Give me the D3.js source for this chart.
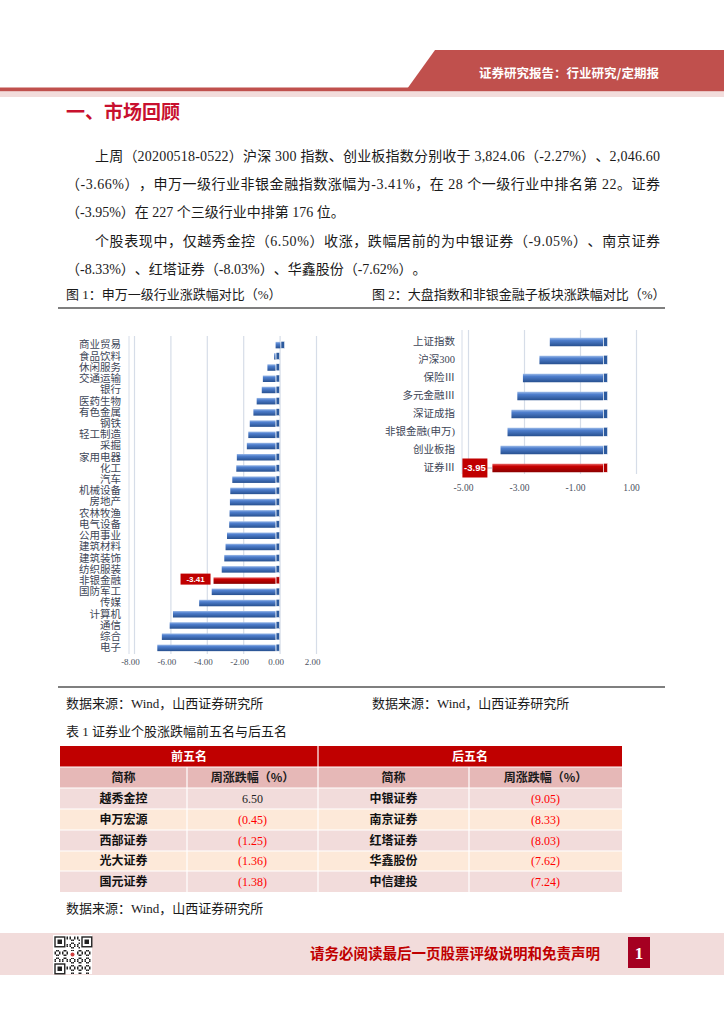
<!DOCTYPE html>
<html>
<head>
<meta charset="utf-8">
<script src="https://cdn.jsdelivr.net/npm/d3@7"></script>
<style>
  body { margin: 0; background: #fff; }
  svg { display: block; }
  svg text { text-spacing-trim: space-all; }
</style>
</head>
<body>
<svg id="page" width="724" height="1024"></svg>
<script>
// chart 1: SW level-1 industries, weekly change (%)
const industries = ["商业贸易", "食品饮料", "休闲服务", "交通运输", "银行", "医药生物", "有色金属",
  "钢铁", "轻工制造", "采掘", "家用电器", "化工", "汽车", "机械设备", "房地产", "农林牧渔",
  "电气设备", "公用事业", "建筑材料", "建筑装饰", "纺织服装", "非银金融", "国防军工", "传媒",
  "计算机", "通信", "综合", "电子"];
const industryChg = [0.27, -0.08, -0.45, -0.70, -0.76, -1.04, -1.22, -1.42, -1.50, -1.58, -2.13,
  -2.16, -2.38, -2.49, -2.51, -2.53, -2.55, -2.67, -2.75, -2.82, -2.96, -3.41, -3.51, -4.20,
  -5.64, -5.82, -6.25, -6.50];
const leftTicks = [-8, -6, -4, -2, 0, 2];

// chart 2: indices and non-bank sub sectors (%)
const indexNames = ["上证指数", "沪深300", "保险Ⅲ", "多元金融Ⅲ", "深证成指", "非银金融(申万)", "创业板指", "证券Ⅲ"];
const indexChg = [-1.90, -2.27, -2.86, -3.06, -3.27, -3.41, -3.66, -3.95];
const rightTicks = [-5, -3, -1, 1];

// table 1
const topNames = ["越秀金控", "申万宏源", "西部证券", "光大证券", "国元证券"];
const topChg = [6.50, -0.45, -1.25, -1.36, -1.38];
const bottomNames = ["中银证券", "南京证券", "红塔证券", "华鑫股份", "中信建投"];
const bottomChg = [-9.05, -8.33, -8.03, -7.62, -7.24];

const bodyLines = [
  "上周（20200518-0522）沪深 300 指数、创业板指数分别收于 3,824.06（-2.27%）、2,046.60",
  "（-3.66%），申万一级行业非银金融指数涨幅为-3.41%，在 28 个一级行业中排名第 22。证券",
  "（-3.95%）在 227 个三级行业中排第 176 位。",
  "个股表现中，仅越秀金控（6.50%）收涨，跌幅居前的为中银证券（-9.05%）、南京证券",
  "（-8.33%）、红塔证券（-8.03%）、华鑫股份（-7.62%）。"
];

const serif = "'Liberation Serif','Noto Sans CJK SC',serif";
const sans = "'Noto Sans CJK SC','Liberation Sans',sans-serif";
const fmt2 = v => v.toFixed(2);

const svg = d3.select("#page");
const defs = svg.append("defs");

function grad(id, stops) {
  const g = defs.append("linearGradient").attr("id", id)
    .attr("x1", 0).attr("y1", 0).attr("x2", 0).attr("y2", 1);
  stops.forEach(s => g.append("stop").attr("offset", s[0]).attr("stop-color", s[1]));
}
grad("blueBar", [[0, "#9dbbe8"], [0.3, "#4f7fce"], [1, "#27508f"]]);
grad("redBar", [[0, "#e86a6a"], [0.3, "#c80000"], [1, "#8a0000"]]);

// ---------- header ----------
svg.append("polygon")
  .attr("points", "435,50 724,50 724,89 407,89")
  .attr("fill", "#c0504d");
svg.append("rect").attr("x", 0).attr("y", 87.5).attr("width", 724).attr("height", 4).attr("fill", "#c0504d");
svg.append("rect").attr("x", 0).attr("y", 91.5).attr("width", 724).attr("height", 5.5).attr("fill", "#f2dcdb");
svg.append("text")
  .attr("x", 569).attr("y", 78)
  .attr("text-anchor", "middle")
  .attr("font-family", sans).attr("font-weight", "bold").attr("font-size", 12.5)
  .attr("fill", "#fff")
  .text("证券研究报告：行业研究/定期报");

svg.append("text")
  .attr("x", 66).attr("y", 119)
  .attr("font-family", sans).attr("font-weight", "bold").attr("font-size", 19)
  .attr("fill", "#c8102e")
  .text("一、市场回顾");

// ---------- body text ----------
const lineX = [95, 66, 66, 95, 66];
const lineY = [161, 189, 217, 246, 274];
const justify = [true, true, false, true, false];
bodyLines.forEach((t, i) => {
  const el = svg.append("text")
    .attr("x", lineX[i]).attr("y", lineY[i])
    .attr("font-family", serif).attr("font-size", 14)
    .attr("fill", "#1a1a1a")
    .text(t);
  if (justify[i]) el.attr("textLength", 660 - lineX[i]).attr("lengthAdjust", "spacing");
});

// captions and rules
function label(x, y, t, size, opts = {}) {
  return svg.append("text").attr("x", x).attr("y", y)
    .attr("font-family", opts.family || serif).attr("font-size", size)
    .attr("font-weight", opts.weight || "normal")
    .attr("fill", opts.fill || "#1a1a1a")
    .attr("text-anchor", opts.anchor || "start")
    .text(t);
}
label(66, 299, "图 1：申万一级行业涨跌幅对比（%）", 13);
label(372, 299, "图 2：大盘指数和非银金融子板块涨跌幅对比（%）", 13);
svg.append("line").attr("x1", 58).attr("x2", 665).attr("y1", 308).attr("y2", 308)
  .attr("stroke", "#555").attr("stroke-width", 1.3);
svg.append("line").attr("x1", 58).attr("x2", 665).attr("y1", 687).attr("y2", 687)
  .attr("stroke", "#555").attr("stroke-width", 1.3);
label(66, 708, "数据来源：Wind，山西证券研究所", 13);
label(372, 708, "数据来源：Wind，山西证券研究所", 13);
label(66, 736, "表 1 证券业个股涨跌幅前五名与后五名", 13);
label(66, 913, "数据来源：Wind，山西证券研究所", 13);

// ---------- bar chart helper ----------
function barChart(cfg) {
  const g = svg.append("g");
  const x = cfg.x, y = cfg.y, x0 = x(0);
  // grid lines, offset to the right for the 3D depth
  g.append("line")
    .attr("x1", x(cfg.ticks[0]) - 1).attr("x2", x(cfg.ticks[0]) - 1)
    .attr("y1", cfg.gridTop).attr("y2", cfg.gridBottom)
    .attr("stroke", "#d5dce8").attr("stroke-width", 1);
  g.append("g")
    .attr("transform", "translate(" + cfg.depth + "," + cfg.gridBottom + ")")
    .call(d3.axisBottom(x).tickValues(cfg.ticks).tickSize(cfg.gridBottom - cfg.gridTop).tickFormat(""))
    .call(s => s.select(".domain").remove())
    .call(s => s.selectAll(".tick line")
      .attr("transform", "translate(0," + (cfg.gridTop - cfg.gridBottom) + ")")
      .attr("stroke", "#d6dde8").attr("stroke-width", 1.2));
  // tick labels
  g.append("g")
    .attr("transform", "translate(0," + cfg.tickY + ")")
    .call(d3.axisBottom(x).tickValues(cfg.ticks).tickSize(0).tickPadding(0).tickFormat(fmt2))
    .call(s => s.select(".domain").remove())
    .call(s => s.selectAll("text")
      .attr("font-family", serif).attr("font-size", cfg.tickSize).attr("fill", "#4a5160"));
  // category labels
  g.append("g")
    .attr("transform", "translate(" + cfg.labelX + ",0)")
    .call(d3.axisLeft(y).tickSize(0).tickPadding(0))
    .call(s => s.select(".domain").remove())
    .call(s => s.selectAll("text")
      .attr("font-family", serif).attr("font-size", cfg.labelSize).attr("fill", "#3d4657"));
  const bh = cfg.barH;
  const data = cfg.names.map((n, i) => ({ name: n, v: cfg.vals[i] }));
  const rows = g.selectAll(".bar").data(data).join("g").attr("class", "bar");
  rows.append("rect")
    .attr("x", d => Math.min(x(d.v), x0))
    .attr("y", d => y(d.name) + (y.bandwidth() - bh) / 2)
    .attr("width", d => Math.abs(x(d.v) - x0))
    .attr("height", bh)
    .attr("fill", d => d.name === cfg.highlight ? "url(#redBar)" : "url(#blueBar)");
  // end face at the right end
  rows.append("rect")
    .attr("x", d => Math.max(x(d.v), x0) + 0.5)
    .attr("y", d => y(d.name) + (y.bandwidth() - bh) / 2 - 0.5)
    .attr("width", cfg.cap)
    .attr("height", bh + 0.5)
    .attr("fill", d => d.name === cfg.highlight ? "#b00000" : "#2c5a9e")
    .attr("stroke", "#fff").attr("stroke-width", 0.5);
  // data label
  const hv = cfg.vals[cfg.names.indexOf(cfg.highlight)];
  const cy = y(cfg.highlight) + y.bandwidth() / 2;
  const bx = x(hv) - cfg.lblGap - cfg.lblW;
  if (cfg.leader) {
    g.append("line").attr("x1", bx + cfg.lblW).attr("x2", x(hv)).attr("y1", cy).attr("y2", cy)
      .attr("stroke", "#9aa5b5").attr("stroke-width", 0.8);
  }
  g.append("rect").attr("x", bx).attr("y", cy - cfg.lblH / 2 + cfg.lblDy)
    .attr("width", cfg.lblW).attr("height", cfg.lblH).attr("fill", "#c00000");
  g.append("text").attr("x", bx + cfg.lblW / 2).attr("y", cy + cfg.lblDy)
    .attr("dy", "0.35em").attr("text-anchor", "middle")
    .attr("font-family", "'Liberation Sans',sans-serif").attr("font-weight", "bold")
    .attr("font-size", cfg.lblSize).attr("fill", "#fff")
    .text(fmt2(hv));
}

// chart 1
barChart({
  names: industries, vals: industryChg, highlight: "非银金融",
  x: d3.scaleLinear().domain([-8, 2]).range([130, 312]),
  y: d3.scaleBand().domain(industries).range([339.5, 653.5]),
  ticks: leftTicks, depth: 4, gridTop: 336, gridBottom: 654, tickY: 659, tickSize: 9,
  labelX: 121, labelSize: 10.5, barH: 6.5, cap: 3.5,
  lblW: 30, lblH: 11, lblGap: 3, lblDy: -1.5, lblSize: 8, leader: false
});

// chart 2
barChart({
  names: indexNames, vals: indexChg, highlight: "证券Ⅲ",
  x: d3.scaleLinear().domain([-5, 1]).range([463, 631]),
  y: d3.scaleBand().domain(indexNames).range([333, 477]),
  ticks: rightTicks, depth: 5, gridTop: 330, gridBottom: 474, tickY: 484, tickSize: 9.5,
  labelX: 455, labelSize: 10.5, barH: 8.5, cap: 4,
  lblW: 25, lblH: 19, lblGap: 5, lblDy: 0, lblSize: 9.5, leader: true
});

// ---------- table ----------
const colX = [60, 187, 318, 469, 622];
const rowY = [746, 767, 788, 809, 830, 851, 871, 892];
const rowFill = ["#f2dcdb", "#fde9d9", "#f2dcdb", "#fde9d9", "#f2dcdb"];
const tg = svg.append("g");
tg.append("rect").attr("x", colX[0]).attr("y", rowY[0]).attr("width", colX[2] - colX[0])
  .attr("height", rowY[1] - rowY[0]).attr("fill", "#c00000");
tg.append("rect").attr("x", colX[2]).attr("y", rowY[0]).attr("width", colX[4] - colX[2])
  .attr("height", rowY[1] - rowY[0]).attr("fill", "#c00000");
for (let c = 0; c < 4; c++) {
  tg.append("rect").attr("x", colX[c]).attr("y", rowY[1]).attr("width", colX[c + 1] - colX[c])
    .attr("height", rowY[2] - rowY[1]).attr("fill", "#e6b8b7");
  for (let r = 0; r < 5; r++) {
    tg.append("rect").attr("x", colX[c]).attr("y", rowY[r + 2]).attr("width", colX[c + 1] - colX[c])
      .attr("height", rowY[r + 3] - rowY[r + 2]).attr("fill", rowFill[r]);
  }
}
// white cell borders
for (let r = 1; r < rowY.length - 1; r++) {
  tg.append("line").attr("x1", colX[0]).attr("x2", colX[4]).attr("y1", rowY[r]).attr("y2", rowY[r])
    .attr("stroke", "#fff").attr("stroke-width", 1.2);
}
colX.slice(1, 4).forEach((cx, i) => {
  tg.append("line").attr("x1", cx).attr("x2", cx)
    .attr("y1", i === 1 ? rowY[0] : rowY[1]).attr("y2", rowY[7])
    .attr("stroke", "#fff").attr("stroke-width", 1.2);
});
const mid = (a, b) => (a + b) / 2;
const tText = (x, y, t, o) => label(x, y, t, 12, Object.assign({ anchor: "middle" }, o)).attr("dy", "0.36em");
tText(mid(colX[0], colX[2]), mid(rowY[0], rowY[1]), "前五名", { family: sans, weight: "bold", fill: "#fff" });
tText(mid(colX[2], colX[4]), mid(rowY[0], rowY[1]), "后五名", { family: sans, weight: "bold", fill: "#fff" });
["简称", "周涨跌幅（%）", "简称", "周涨跌幅（%）"].forEach((t, c) => {
  tText(mid(colX[c], colX[c + 1]), mid(rowY[1], rowY[2]), t, { family: sans, weight: "bold", fill: "#1a1a1a" });
});
const fmtChg = v => v < 0 ? "(" + fmt2(-v) + ")" : fmt2(v);
for (let r = 0; r < 5; r++) {
  const cy = mid(rowY[r + 2], rowY[r + 3]);
  tText(mid(colX[0], colX[1]), cy, topNames[r], { family: sans, weight: "bold", fill: "#111" });
  tText(mid(colX[1], colX[2]), cy, fmtChg(topChg[r]), { fill: topChg[r] < 0 ? "#ff0000" : "#222" });
  tText(mid(colX[2], colX[3]), cy, bottomNames[r], { family: sans, weight: "bold", fill: "#111" });
  tText(mid(colX[3], colX[4]), cy, fmtChg(bottomChg[r]), { fill: bottomChg[r] < 0 ? "#ff0000" : "#222" });
}

// ---------- footer ----------
svg.append("rect").attr("x", 0).attr("y", 933).attr("width", 724).attr("height", 42).attr("fill", "#f2dcdb");
const qr = svg.append("g").attr("transform", "translate(53,935)");
qr.append("rect").attr("width", 39).attr("height", 39).attr("fill", "#fff");
const cell = 1.5;
for (let i = 0; i < 25; i++) {
  for (let j = 0; j < 25; j++) {
    const inFinder = (i < 8 && j < 8) || (i < 8 && j > 16) || (i > 16 && j < 8);
    if (inFinder) continue;
    if (((i * 7 + j * 11 + i * j) % 5) < 2) {
      qr.append("rect").attr("x", 1.5 + i * cell).attr("y", 1.5 + j * cell)
        .attr("width", cell).attr("height", cell).attr("fill", "#222");
    }
  }
}
[[1.5, 1.5], [1.5 + 18 * cell, 1.5], [1.5, 1.5 + 18 * cell]].forEach(p => {
  qr.append("rect").attr("x", p[0] + 0.5).attr("y", p[1] + 0.5).attr("width", 6.5 * cell)
    .attr("height", 6.5 * cell).attr("fill", "none").attr("stroke", "#222").attr("stroke-width", 1.4);
  qr.append("rect").attr("x", p[0] + 2 * cell).attr("y", p[1] + 2 * cell).attr("width", 3 * cell)
    .attr("height", 3 * cell).attr("fill", "#222");
});
qr.append("rect").attr("x", 16).attr("y", 16).attr("width", 7).attr("height", 7).attr("fill", "#fff");
qr.append("circle").attr("cx", 19.5).attr("cy", 19.5).attr("r", 2).attr("fill", "#d04040");

label(455, 959, "请务必阅读最后一页股票评级说明和免责声明", 14.5,
  { family: sans, weight: "bold", fill: "#c00000", anchor: "middle" });
svg.append("rect").attr("x", 628).attr("y", 937).attr("width", 22).attr("height", 31).attr("fill", "#a50021");
label(639, 959, "1", 17, { weight: "bold", fill: "#fff", anchor: "middle" });
</script>
</body>
</html>
